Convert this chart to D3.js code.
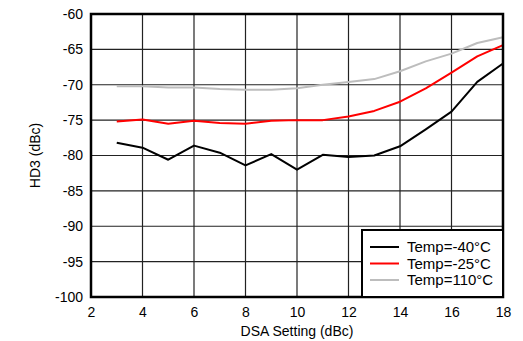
<!DOCTYPE html>
<html><head><meta charset="utf-8">
<script src="https://cdn.jsdelivr.net/npm/d3@7"></script>
<style>body{margin:0;background:#fff}svg{display:block;font-family:"Liberation Sans",Arial,sans-serif}</style>
</head><body>
<svg id="c" width="523" height="341"></svg>
<script>
const dsa = [3,4,5,6,7,8,9,10,11,12,13,14,15,16,17,18];
const tempM40 = [-78.2,-78.9,-80.6,-78.6,-79.6,-81.4,-79.8,-82.0,-79.9,-80.2,-80.0,-78.7,-76.3,-73.8,-69.6,-67.0];
const tempM25 = [-75.2,-74.9,-75.5,-75.1,-75.4,-75.5,-75.1,-75.0,-75.0,-74.5,-73.7,-72.4,-70.5,-68.3,-66.0,-64.4];
const temp110 = [-70.2,-70.2,-70.4,-70.4,-70.6,-70.7,-70.7,-70.5,-70.0,-69.6,-69.2,-68.1,-66.7,-65.6,-64.1,-63.3];
const xTicks = [2,4,6,8,10,12,14,16,18];
const yTicks = [-60,-65,-70,-75,-80,-85,-90,-95,-100];
const seriesNames = ["Temp=-40°C","Temp=-25°C","Temp=110°C"];
const seriesColors = ["#000000","#ff0000","#bdbdbd"];
const seriesData = [tempM40, tempM25, temp110];

const svg = d3.select("#c");
const L=91,R=503,T=14,B=297;
const x = d3.scaleLinear().domain([2,18]).range([L,R]);
const y = d3.scaleLinear().domain([-100,-60]).range([B,T]);

// grid
svg.append("g").selectAll("line").data(xTicks.slice(1,-1)).join("line")
  .attr("x1",d=>x(d)).attr("x2",d=>x(d)).attr("y1",T).attr("y2",B)
  .attr("stroke","#222").attr("stroke-width",1.2);
svg.append("g").selectAll("line").data(yTicks.slice(1,-1)).join("line")
  .attr("y1",d=>y(d)).attr("y2",d=>y(d)).attr("x1",L).attr("x2",R)
  .attr("stroke","#222").attr("stroke-width",1.2);

// axes labels
const fmt = d=>String(d);
const xa = svg.append("g").attr("transform",`translate(0,${B})`)
  .call(d3.axisBottom(x).tickValues(xTicks).tickSize(0).tickPadding(10).tickFormat(fmt));
xa.select(".domain").remove();
xa.selectAll("text").attr("font-size",14).attr("fill","#000").attr("font-family","Liberation Sans, Arial, sans-serif");
const ya = svg.append("g").attr("transform",`translate(${L},0)`)
  .call(d3.axisLeft(y).tickValues(yTicks).tickSize(0).tickPadding(8).tickFormat(fmt));
ya.select(".domain").remove();
ya.selectAll("text").attr("font-size",14).attr("fill","#000").attr("font-family","Liberation Sans, Arial, sans-serif");

// lines
const line = d3.line().x((d,i)=>x(dsa[i])).y(d=>y(d));
seriesData.forEach((s,k)=>{
  svg.append("path").datum(s).attr("d",line).attr("fill","none")
    .attr("stroke",seriesColors[k]).attr("stroke-width",2).attr("stroke-linejoin","round");
});

// frame
svg.append("rect").attr("x",L).attr("y",T).attr("width",R-L).attr("height",B-T)
  .attr("fill","none").attr("stroke","#000").attr("stroke-width",2.5);

// legend
const lg = svg.append("g");
lg.append("rect").attr("x",362).attr("y",230).attr("width",R-362).attr("height",B-230)
  .attr("fill","#fff").attr("stroke","#000").attr("stroke-width",2);
seriesNames.forEach((n,k)=>{
  const yy = 247 + k*16.5;
  lg.append("line").attr("x1",370).attr("x2",399).attr("y1",yy).attr("y2",yy)
    .attr("stroke",seriesColors[k]).attr("stroke-width",2);
  lg.append("text").attr("x",407).attr("y",yy+5).attr("font-size",15).text(n);
});

// titles
svg.append("text").attr("x",(L+R)/2).attr("y",336).attr("text-anchor","middle")
  .attr("font-size",14).text("DSA Setting (dBc)");
svg.append("text").attr("transform",`translate(40,${(T+B)/2}) rotate(-90)`)
  .attr("text-anchor","middle").attr("font-size",14).text("HD3 (dBc)");
</script>
</body></html>
